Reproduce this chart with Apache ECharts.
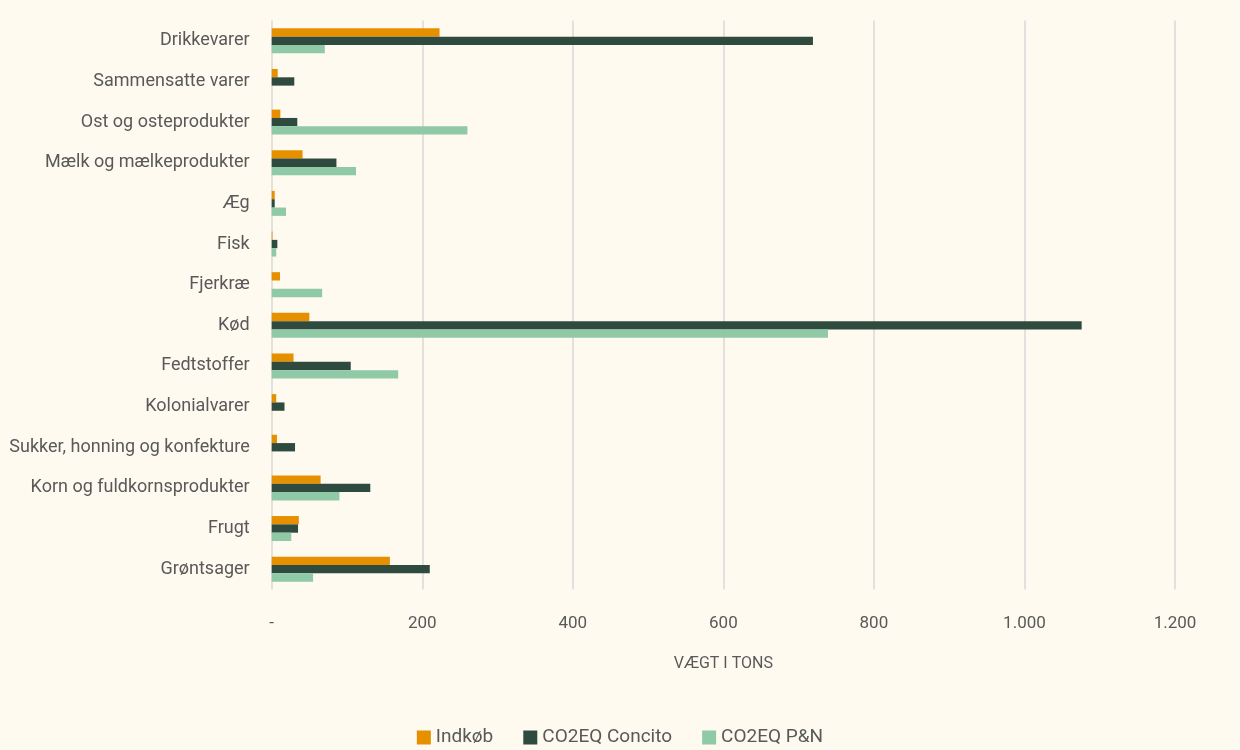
<!DOCTYPE html>
<html>
<head>
<meta charset="utf-8">
<script src="https://cdn.jsdelivr.net/npm/echarts@6/dist/echarts.min.js"></script>
<style>
html,body{margin:0;padding:0;background:#FEFAEF;}
#c{width:1240px;height:750px;}
</style>
</head>
<body>
<div id="c"></div>
<script>
const categories = ["Drikkevarer","Sammensatte varer","Ost og osteprodukter","Mælk og mælkeprodukter","Æg","Fisk","Fjerkræ","Kød","Fedtstoffer","Kolonialvarer","Sukker, honning og konfekture","Korn og fuldkornsprodukter","Frugt","Grøntsager"];
const indkob  = [223, 8, 11.5, 41, 4, 1, 11, 50, 29, 6, 7, 65, 36, 157];
const concito = [719, 30, 34, 86, 4, 7.5, 0, 1076, 105, 17, 31, 131, 35, 210];
const pn      = [70.5, 0, 260, 112, 19, 6, 67, 739, 168, 0, 0, 90, 26, 55];
const seriesNames = ["Indkøb","CO2EQ Concito","CO2EQ P&N"];
const xTicks = {min:0, max:1200, interval:200};

const font = "'Liberation Sans Narrow','Roboto','Noto Sans',sans-serif";
const txt = '#595959';
const chart = echarts.init(document.getElementById('c'));
function fmt(v){ if(v===0) return '-'; return String(v).replace(/\B(?=(\d{3})+(?!\d))/g,'.'); }
chart.setOption({
  backgroundColor:'#FEFAEF',
  animation:false,
  grid:{left:271.7, right:1240-1175, top:20.5, bottom:160.5, containLabel:false, outerBoundsMode:'none'},
  legend:{
    bottom:-2, left:'center', itemWidth:14, itemHeight:14, itemGap:30, icon:'rect',
    textStyle:{fontFamily:font, fontSize:19, color:txt},
    data:seriesNames
  },
  xAxis:{
    type:'value', min:xTicks.min, max:xTicks.max, interval:xTicks.interval,
    name:'VÆGT I TONS', nameLocation:'middle', nameGap:66,
    nameTextStyle:{fontFamily:font, fontSize:16, color:txt},
    axisLine:{show:false}, axisTick:{show:false},
    axisLabel:{formatter:fmt, fontFamily:font, fontSize:17, color:txt, margin:26},
    splitLine:{show:true, lineStyle:{color:'#D9D9D9', width:1.5}}
  },
  yAxis:{
    type:'category', data:categories, inverse:true,
    axisLine:{show:false}, axisTick:{show:false},
    axisLabel:{fontFamily:font, fontSize:18, color:txt, margin:22}
  },
  series:[
    {name:seriesNames[0], type:'bar', data:indkob, itemStyle:{color:'#E69000'}, barGap:'0%', barCategoryGap:'38.5%'},
    {name:seriesNames[1], type:'bar', data:concito, itemStyle:{color:'#2F4A3F'}, barGap:'0%', barCategoryGap:'38.5%'},
    {name:seriesNames[2], type:'bar', data:pn, itemStyle:{color:'#8FC9A6'}, barGap:'0%', barCategoryGap:'38.5%'}
  ]
});
</script>
</body>
</html>
